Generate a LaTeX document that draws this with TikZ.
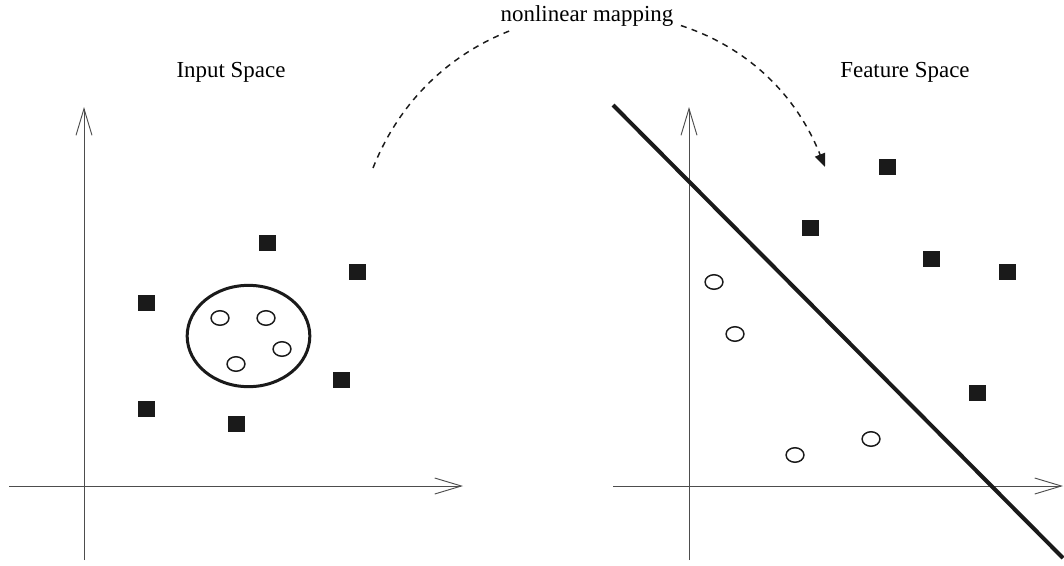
\documentclass[tikz,border=0pt]{standalone}
\usepackage{fontspec}
\setmainfont{Liberation Serif}
\usepackage{tikz}
\usetikzlibrary{arrows.meta,shapes.geometric}
\definecolor{axisgray}{HTML}{4D4D4D}
\definecolor{ink}{HTML}{1A1A1A}

\begin{document}
\begin{tikzpicture}[x=0.75pt,y=-0.75pt,
  axisline/.style={draw=axisgray,line width=0.7pt,-{Straight Barb[length=20pt,width=12pt]}},
  sq/.style={fill=ink,minimum width=12.75pt,minimum height=11.5pt,inner sep=0pt},
  ring/.style={draw=ink,ellipse,line width=1.1pt,minimum width=13.4pt,minimum height=10.9pt,inner sep=0pt},
  lbl/.style={font=\fontsize{17.2}{20}\selectfont,inner sep=0pt,anchor=base},
  mapline/.style={draw=ink,line width=1.1pt,dash pattern=on 4.5pt off 4pt,-{Triangle[length=10pt,width=8pt]}}
]
\useasboundingbox (0,0) rectangle (1064,565);
% input space
\coordinate (lo1) at (84,560);  \coordinate (ly1) at (84,107);
\coordinate (lx0) at (9,486);   \coordinate (lx1) at (463,486);
\draw[axisline] (lo1) -- (ly1);
\draw[axisline] (lx0) -- (lx1);
\node[lbl] (inlbl) at (231,77) {Input Space};
\node[draw=ink,ellipse,line width=2.25pt,minimum width=92pt,minimum height=76pt] (clu) at (248.5,336) {};
\node[ring] (a1) at (220,318) {};
\node[ring] (a2) at (266,318) {};
\node[ring] (a3) at (282,349) {};
\node[ring] (a4) at (236,364) {};
\node[sq] (b1) at (267,243) {};
\node[sq] (b2) at (357,272) {};
\node[sq] (b3) at (146,303) {};
\node[sq] (b4) at (341,380) {};
\node[sq] (b5) at (146,409) {};
\node[sq] (b6) at (236,424) {};
% feature space
\coordinate (ro1) at (689,560); \coordinate (ry1) at (689,107);
\coordinate (rx0) at (613,486); \coordinate (rx1) at (1063,486);
\draw[axisline] (ro1) -- (ry1);
\draw[axisline] (rx0) -- (rx1);
\node[lbl] (ftlbl) at (905,77) {Feature Space};
\coordinate (sep0) at (613,105); \coordinate (sep1) at (1063,558);
\draw[ink,line width=3pt] (sep0) -- (sep1);
\node[ring] (c1) at (714,282) {};
\node[ring] (c2) at (735,334) {};
\node[ring] (c3) at (795,455) {};
\node[ring] (c4) at (871,439) {};
\node[sq] (d1) at (887,167) {};
\node[sq] (d2) at (810,228) {};
\node[sq] (d3) at (931,259) {};
\node[sq] (d4) at (1007,272) {};
\node[sq] (d5) at (977,393) {};
% mapping
\coordinate (mapfrom) at (373,168);
\coordinate (mapto) at (825,167);
\draw[mapline] (mapfrom) .. controls (454,-36) and (744,-36) .. (mapto);
\node[lbl,fill=white,inner sep=3pt] (maplbl) at (587,21) {nonlinear mapping};
\end{tikzpicture}
\end{document}
